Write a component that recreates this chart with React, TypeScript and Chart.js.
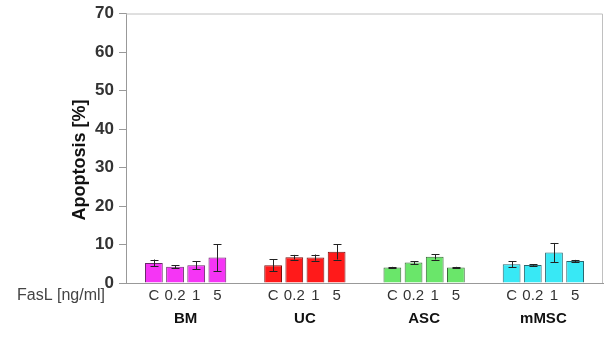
import React, { useEffect, useRef } from "react";
import { Chart, registerables } from "chart.js";

Chart.register(...registerables);

const groups = ["BM", "UC", "ASC", "mMSC"];
const doses = ["C", "0.2", "1", "5"];
const groupColors = ["#f535f5", "#ff1a1a", "#6ae66a", "#38e8f5"];
const groupBorders = ["#6a2a6a", "#7a1010", "#3a6a3a", "#2a6870"];
// values[dose][group]
const valC = [5.2, 4.6, 4.0, 4.9];
const val02 = [4.2, 6.7, 5.3, 4.7];
const val1 = [4.6, 6.6, 6.8, 7.9];
const val5 = [6.6, 8.1, 4.0, 5.7];
const errC = [0.9, 1.6, 0.2, 0.8];
const err02 = [0.4, 0.6, 0.4, 0.2];
const err1 = [1.0, 0.8, 0.7, 2.5];
const err5 = [3.5, 2.0, 0.2, 0.3];
const yTicks = [0, 10, 20, 30, 40, 50, 60, 70];

const values = [valC, val02, val1, val5];
const errors = [errC, err02, err1, err5];

const FONT = "Arial, 'Liberation Sans', sans-serif";

export default function App() {
  const ref = useRef<HTMLCanvasElement | null>(null);
  useEffect(() => {
    document.body.style.margin = "0";
    const canvas = ref.current!;
    const extras = {
      id: "extras",
      afterDatasetsDraw(chart: any) {
        const ctx = chart.ctx;
        const y = chart.scales.y;
        const a = chart.chartArea;
        ctx.save();
        // border top/right
        ctx.strokeStyle = "#c0c0c0";
        ctx.lineWidth = 1;
        ctx.beginPath();
        ctx.moveTo(a.left, a.top + 0.5);
        ctx.lineTo(a.right - 0.5, a.top + 0.5);
        ctx.lineTo(a.right - 0.5, a.bottom);
        ctx.stroke();
        // error bars
        ctx.strokeStyle = "#222";
        chart.data.datasets.forEach((ds: any, di: number) => {
          const meta = chart.getDatasetMeta(di);
          meta.data.forEach((bar: any, gi: number) => {
            const v = values[di][gi];
            const e = errors[di][gi];
            const x = Math.round(bar.x) + 0.5;
            const yt = y.getPixelForValue(v + e);
            const yb = y.getPixelForValue(v - e);
            ctx.beginPath();
            ctx.moveTo(x, yt);
            ctx.lineTo(x, yb);
            ctx.moveTo(x - 4, Math.round(yt) + 0.5);
            ctx.lineTo(x + 4, Math.round(yt) + 0.5);
            ctx.moveTo(x - 4, Math.round(yb) + 0.5);
            ctx.lineTo(x + 4, Math.round(yb) + 0.5);
            ctx.stroke();
            // dose labels
            ctx.fillStyle = "#333";
            ctx.font = "15px " + FONT;
            ctx.textAlign = "center";
            ctx.textBaseline = "middle";
            ctx.fillText(doses[di], bar.x, 296);
          });
        });
        ctx.fillStyle = "#444";
        ctx.font = "16px " + FONT;
        ctx.textAlign = "left";
        ctx.textBaseline = "middle";
        ctx.fillText("FasL [ng/ml]", 17, 296);
        // y title
        ctx.translate(80, 160);
        ctx.rotate(-Math.PI / 2);
        ctx.fillStyle = "#111";
        ctx.font = "bold 18px " + FONT;
        ctx.textAlign = "center";
        ctx.fillText("Apoptosis [%]", 0, 0);
        ctx.restore();
      },
    };
    const chart = new Chart(canvas, {
      type: "bar",
      data: {
        labels: groups,
        datasets: values.map((vals, di) => ({
          label: doses[di],
          data: vals,
          backgroundColor: groupColors,
          borderColor: groupBorders,
          borderWidth: 1,
          categoryPercentage: 0.71,
          barPercentage: 0.84,
        })),
      },
      options: {
        animation: false,
        responsive: false,
        maintainAspectRatio: false,
        layout: { padding: { top: 13, right: 10, left: 0, bottom: 0 } },
        plugins: { legend: { display: false }, tooltip: { enabled: false } },
        scales: {
          x: {
            grid: { display: false },
            border: { color: "#999", width: 1 },
            ticks: {
              color: "#111",
              font: { family: FONT, size: 15, weight: "bold" },
              padding: 19,
            },
            afterFit: (s: any) => {
              s.height = 55;
            },
          },
          y: {
            min: 0,
            max: 70,
            afterBuildTicks: (s: any) => {
              s.ticks = yTicks.map((v) => ({ value: v }));
            },
            grid: { drawOnChartArea: false, drawTicks: true, tickLength: 7, color: "#999" },
            border: { color: "#999", width: 1 },
            ticks: {
              color: "#333",
              font: { family: FONT, size: 17, weight: "bold", lineHeight: 1 },
              padding: 5,
            },
            afterFit: (s: any) => {
              s.width = 126;
            },
          },
        },
      },
      plugins: [extras],
    });
    return () => chart.destroy();
  }, []);
  return (
    <div style={{ width: 613, height: 338 }}>
      <canvas ref={ref} width={613} height={338} style={{ display: "block" }} />
    </div>
  );
}
